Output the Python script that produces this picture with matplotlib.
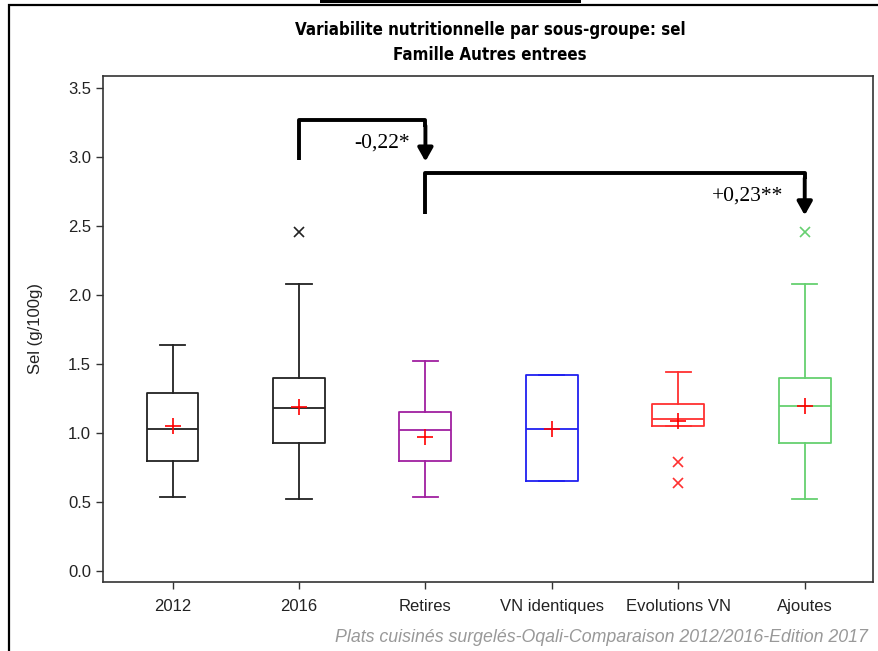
import numpy as np
import matplotlib.pyplot as plt
from matplotlib.patches import Rectangle

# Groups and box statistics
groups = ["2012", "2016", "Retires", "VN identiques", "Evolutions VN", "Ajoutes"]
whislo = [0.54, 0.52, 0.54, 0.65, 1.05, 0.52]
q1 = [0.80, 0.93, 0.80, 0.65, 1.05, 0.93]
med = [1.03, 1.18, 1.02, 1.03, 1.10, 1.20]
q3 = [1.29, 1.40, 1.15, 1.42, 1.21, 1.40]
whishi = [1.64, 2.08, 1.52, 1.42, 1.44, 2.08]
means = [1.05, 1.19, 0.97, 1.03, 1.09, 1.20]
fliers = [[], [2.46], [], [], [0.79, 0.64], [2.46]]
colors = ["#222222", "#222222", "#A020A0", "#2020F0", "#FF3030", "#66D070"]

# Significance brackets: (from, to, label)
comparisons = [(1, 2, "-0,22*"), (2, 5, "+0,23**")]
bracket_low = [2.98, 2.59]
bracket_top = [3.27, 2.89]
label_gap = [0.12, 0.17]

plt.rcParams['font.family'] = ['Liberation Sans', 'DejaVu Sans']

fig = plt.figure(figsize=(8.79, 6.51), dpi=100)
ax = fig.add_axes([103 / 879, 1 - 582 / 651, (873 - 103) / 879, (582 - 76) / 651])

# Outer frame and top bar
fig.patches.append(Rectangle((9 / 879, -0.1), 1.2, (651 - 4.5) / 651 + 0.1,
                             transform=fig.transFigure, fill=False,
                             edgecolor='black', lw=1.6))
fig.patches.append(Rectangle((320 / 879, 1 - 2.5 / 651), 261 / 879, 3 / 651,
                             transform=fig.transFigure, facecolor='black',
                             edgecolor='none'))

stats = []
for i in range(len(groups)):
    stats.append(dict(label=groups[i], whislo=whislo[i], q1=q1[i], med=med[i],
                      q3=q3[i], whishi=whishi[i], mean=means[i], fliers=fliers[i]))

for i, s in enumerate(stats):
    c = colors[i]
    ax.bxp([s], positions=[i], widths=0.41, capwidths=0.2, showmeans=True,
           boxprops=dict(color=c, lw=1.3),
           medianprops=dict(color=c, lw=1.3),
           whiskerprops=dict(color=c, lw=1.3),
           capprops=dict(color=c, lw=1.3),
           flierprops=dict(marker='x', markeredgecolor=c, markersize=7, mew=1.2),
           meanprops=dict(marker='+', markeredgecolor='red', markersize=11, mew=1.2))

# Brackets with arrows
for k, (a, b, lab) in enumerate(comparisons):
    lo, hi = bracket_low[k], bracket_top[k]
    ax.plot([a, a, b, b], [lo, hi, hi, hi - 0.05], color='black', lw=2.8,
            solid_joinstyle='round', solid_capstyle='butt')
    ax.annotate('', xy=(b, lo - 0.01), xytext=(b, hi - 0.04),
                arrowprops=dict(arrowstyle='-|>,head_width=0.45,head_length=0.8',
                                lw=2.8, color='black', shrinkA=0, shrinkB=0))
    ax.text(b - label_gap[k], (lo + hi) / 2 - 0.02, lab, ha='right', va='center',
            family='Liberation Serif', fontsize=15.5)

ax.set_xlim(-0.55, 5.54)
ax.set_ylim(-0.08, 3.59)
ax.set_yticks(np.arange(0, 3.51, 0.5))
ax.set_yticklabels([f"{v:.1f}" for v in np.arange(0, 3.51, 0.5)])
ax.set_xticks(range(len(groups)))
ax.set_xticklabels(groups)
ax.tick_params(axis='both', direction='out', length=5, width=1, colors='#333333',
               labelsize=12, labelcolor='#222222')
ax.tick_params(axis='x', pad=7)
for sp in ax.spines.values():
    sp.set_color('#333333')
    sp.set_linewidth(1.2)
ax.set_ylabel("Sel (g/100g)", fontsize=12, color='#222222', labelpad=18)

title_font = dict(ha='center', va='center', fontsize=12.2, fontweight='bold',
                  family='DejaVu Sans', fontstretch='condensed')
fig.text(490 / 879, 1 - 30 / 651, "Variabilite nutritionnelle par sous-groupe: sel",
         **title_font)
fig.text(490 / 879, 1 - 55 / 651, "Famille Autres entrees", **title_font)
fig.text(868 / 879, 1 - 637 / 651,
         "Plats cuisinés surgelés-Oqali-Comparaison 2012/2016-Edition 2017",
         ha='right', va='center', fontsize=12.8, style='italic', color='#999999')

fig.savefig("out.png", dpi=100)
